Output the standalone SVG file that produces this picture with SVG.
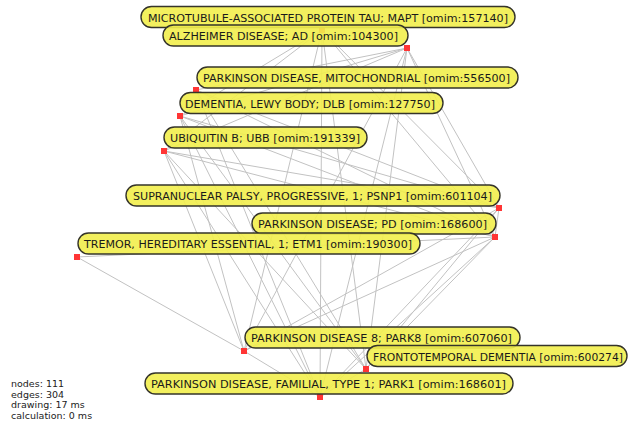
<svg xmlns="http://www.w3.org/2000/svg" width="629" height="427" viewBox="0 0 629 427">
<style>
.bg{fill:#ffffff}
.e{stroke:#c2c2c2;stroke-width:1;fill:none}
.sq{fill:#ff3535}
.lb{fill:#f2ee4c;fill-opacity:0.9;stroke:#35342a;stroke-width:1.4}
.tx{font-family:"DejaVu Sans",Verdana,sans-serif;font-size:11px;fill:#1a1a1a}
.st{font-family:"DejaVu Sans",Verdana,sans-serif;font-size:9.5px;fill:#222}
</style>
<rect class="bg" x="0" y="0" width="629" height="427"/>
<g id="edges">
<line class="e" x1="407" y1="48" x2="196" y2="90"/>
<line class="e" x1="407" y1="48" x2="180" y2="116"/>
<line class="e" x1="407" y1="48" x2="164" y2="151"/>
<line class="e" x1="407" y1="48" x2="499" y2="208"/>
<line class="e" x1="407" y1="48" x2="495" y2="237"/>
<line class="e" x1="407" y1="48" x2="244" y2="351"/>
<line class="e" x1="407" y1="48" x2="366" y2="369"/>
<line class="e" x1="407" y1="48" x2="320" y2="397"/>
<line class="e" x1="322" y1="30" x2="320" y2="397"/>
<line class="e" x1="322" y1="30" x2="366" y2="369"/>
<line class="e" x1="322" y1="30" x2="244" y2="351"/>
<line class="e" x1="322" y1="30" x2="499" y2="208"/>
<line class="e" x1="322" y1="30" x2="495" y2="237"/>
<line class="e" x1="322" y1="30" x2="164" y2="151"/>
<line class="e" x1="322" y1="30" x2="180" y2="116"/>
<line class="e" x1="196" y1="90" x2="495" y2="237"/>
<line class="e" x1="196" y1="90" x2="499" y2="208"/>
<line class="e" x1="196" y1="90" x2="366" y2="369"/>
<line class="e" x1="196" y1="90" x2="320" y2="397"/>
<line class="e" x1="180" y1="116" x2="499" y2="208"/>
<line class="e" x1="180" y1="116" x2="495" y2="237"/>
<line class="e" x1="180" y1="116" x2="244" y2="351"/>
<line class="e" x1="180" y1="116" x2="366" y2="369"/>
<line class="e" x1="180" y1="116" x2="320" y2="397"/>
<line class="e" x1="164" y1="151" x2="499" y2="208"/>
<line class="e" x1="164" y1="151" x2="495" y2="237"/>
<line class="e" x1="164" y1="151" x2="244" y2="351"/>
<line class="e" x1="164" y1="151" x2="320" y2="397"/>
<line class="e" x1="164" y1="151" x2="366" y2="369"/>
<line class="e" x1="77" y1="257" x2="244" y2="351"/>
<line class="e" x1="77" y1="257" x2="495" y2="237"/>
<line class="e" x1="499" y1="208" x2="495" y2="237"/>
<line class="e" x1="499" y1="208" x2="244" y2="351"/>
<line class="e" x1="499" y1="208" x2="366" y2="369"/>
<line class="e" x1="499" y1="208" x2="320" y2="397"/>
<line class="e" x1="495" y1="237" x2="244" y2="351"/>
<line class="e" x1="495" y1="237" x2="366" y2="369"/>
<line class="e" x1="495" y1="237" x2="320" y2="397"/>
<line class="e" x1="244" y1="351" x2="320" y2="397"/>
<line class="e" x1="366" y1="369" x2="320" y2="397"/>
</g>
<g id="n-mapt">
<rect class="sq" x="319" y="27" width="6" height="6"/>
<rect class="lb" x="141" y="6.5" width="374" height="21" rx="10.5"/>
<text class="tx" x="148" y="21.5" textLength="360" lengthAdjust="spacingAndGlyphs">MICROTUBULE-ASSOCIATED PROTEIN TAU; MAPT [omim:157140]</text>
</g>
<g id="n-ad">
<rect class="sq" x="404" y="45" width="6" height="6"/>
<rect class="lb" x="163" y="25" width="245" height="21" rx="10.5"/>
<text class="tx" x="169" y="40" textLength="229" lengthAdjust="spacingAndGlyphs">ALZHEIMER DISEASE; AD [omim:104300]</text>
</g>
<g id="n-pdmito">
<rect class="sq" x="193" y="87" width="6" height="6"/>
<rect class="lb" x="197" y="67" width="321" height="21" rx="10.5"/>
<text class="tx" x="203" y="82" textLength="307" lengthAdjust="spacingAndGlyphs">PARKINSON DISEASE, MITOCHONDRIAL [omim:556500]</text>
</g>
<g id="n-dlb">
<rect class="sq" x="177" y="113" width="6" height="6"/>
<rect class="lb" x="180" y="92.5" width="263" height="21" rx="10.5"/>
<text class="tx" x="185" y="107.5" textLength="250" lengthAdjust="spacingAndGlyphs">DEMENTIA, LEWY BODY; DLB [omim:127750]</text>
</g>
<g id="n-ubb">
<rect class="sq" x="161" y="148" width="6" height="6"/>
<rect class="lb" x="164" y="127" width="203" height="21" rx="10.5"/>
<text class="tx" x="170" y="142" textLength="190" lengthAdjust="spacingAndGlyphs">UBIQUITIN B; UBB [omim:191339]</text>
</g>
<g id="n-psnp1">
<rect class="sq" x="496" y="205" width="6" height="6"/>
<rect class="lb" x="126" y="185" width="374" height="21" rx="10.5"/>
<text class="tx" x="133" y="200" textLength="359" lengthAdjust="spacingAndGlyphs">SUPRANUCLEAR PALSY, PROGRESSIVE, 1; PSNP1 [omim:601104]</text>
</g>
<g id="n-pd">
<rect class="sq" x="492" y="234" width="6" height="6"/>
<rect class="lb" x="252" y="213" width="244" height="21" rx="10.5"/>
<text class="tx" x="258" y="228" textLength="229" lengthAdjust="spacingAndGlyphs">PARKINSON DISEASE; PD [omim:168600]</text>
</g>
<g id="n-etm1">
<rect class="sq" x="74" y="254" width="6" height="6"/>
<rect class="lb" x="78" y="233" width="342" height="21" rx="10.5"/>
<text class="tx" x="84" y="248" textLength="328" lengthAdjust="spacingAndGlyphs">TREMOR, HEREDITARY ESSENTIAL, 1; ETM1 [omim:190300]</text>
</g>
<g id="n-park8">
<rect class="sq" x="241" y="348" width="6" height="6"/>
<rect class="lb" x="245" y="327" width="275" height="21" rx="10.5"/>
<text class="tx" x="251" y="342" textLength="261" lengthAdjust="spacingAndGlyphs">PARKINSON DISEASE 8; PARK8 [omim:607060]</text>
</g>
<g id="n-ftd">
<rect class="sq" x="363" y="366" width="6" height="6"/>
<rect class="lb" x="367" y="345.5" width="260" height="21" rx="10.5"/>
<text class="tx" x="373" y="360.5" textLength="250" lengthAdjust="spacingAndGlyphs">FRONTOTEMPORAL DEMENTIA [omim:600274]</text>
</g>
<g id="n-park1">
<rect class="sq" x="317" y="394" width="6" height="6"/>
<rect class="lb" x="145" y="373" width="368" height="21" rx="10.5"/>
<text class="tx" x="151" y="388" textLength="355" lengthAdjust="spacingAndGlyphs">PARKINSON DISEASE, FAMILIAL, TYPE 1; PARK1 [omim:168601]</text>
</g>
<g id="stats">
<text class="st" x="11" y="387">nodes: 111</text>
<text class="st" x="11" y="397.5">edges: 304</text>
<text class="st" x="11" y="408">drawing: 17 ms</text>
<text class="st" x="11" y="418.5">calculation: 0 ms</text>
</g>
</svg>
